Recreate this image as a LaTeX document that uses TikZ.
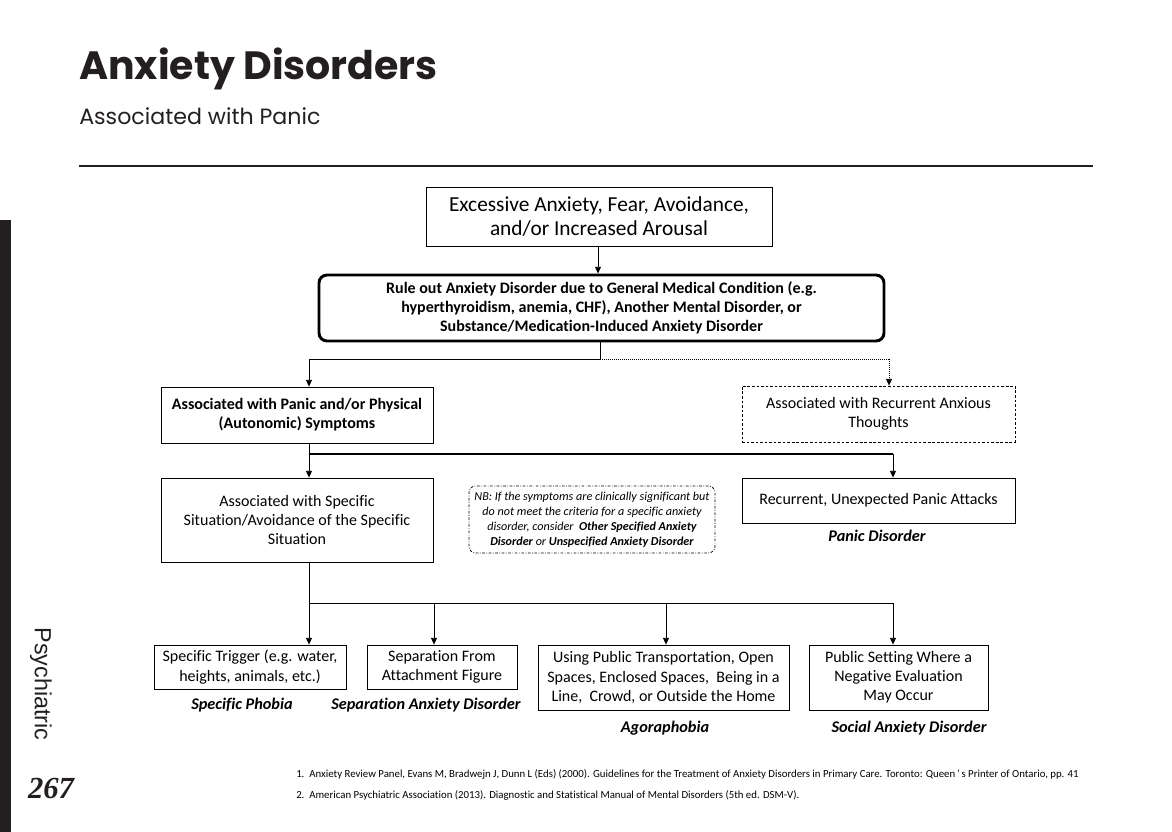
\documentclass[tikz,border=0pt]{standalone}
\usepackage{fontspec}
\setmainfont[Ligatures={NoCommon,NoRequired,NoContextual},Contextuals=NoAlternate]{Carlito}
\newfontfamily\titlefont{Poppins}
\newfontfamily\sidefont{Liberation Sans}
\newfontfamily\numfont{Liberation Serif}
\usetikzlibrary{arrows.meta}
\definecolor{ink}{HTML}{231F20}
\begin{document}
\begin{tikzpicture}[x=0.75pt,y=-0.75pt,
  box/.style={draw, line width=0.6pt, inner sep=0pt, align=center, font=\fontsize{12}{14.3}\selectfont},
  boldbox/.style={box, font=\fontsize{12}{14.3}\selectfont\bfseries},
  bigbox/.style={box, font=\fontsize{16}{18}\selectfont},
  rulebox/.style={draw, line width=2.2pt, rounded corners=6pt, inner sep=0pt, align=center, font=\fontsize{12}{14.3}\selectfont\bfseries},
  dashbox/.style={box, dash pattern=on 2pt off 1.4pt},
  nbbox/.style={draw, line width=0.6pt, rounded corners=5pt, dash pattern=on 2pt off 1.2pt on 0.5pt off 1.2pt, inner sep=0pt, align=center, font=\fontsize{9.1}{11.2}\selectfont\itshape},
  dxlabel/.style={inner sep=0pt, font=\fontsize{12.2}{13}\selectfont\bfseries\itshape},
  conn/.style={line width=0.6pt},
  arr/.style={conn, -{Triangle[length=5pt,width=4.4pt]}},
  dotarr/.style={line width=0.5pt, densely dotted, -{Triangle[length=5pt,width=4.4pt]}},
  foot/.style={inner sep=0pt, anchor=base west, font=\fontsize{8.1}{9}\selectfont}
]
\useasboundingbox (0,0) rectangle (1172,832);
\fill[white] (0,0) rectangle (1172,832);

% side bar and page furniture
\fill[ink] (0,220) rectangle (11,832);
\node[ink, rotate=-90, inner sep=0pt, font=\sidefont\fontsize{17.5}{20}\selectfont] (side) at (41,684) {Psychiatric};
\node[ink, inner sep=0pt, font=\numfont\fontsize{23}{26}\selectfont\bfseries\itshape] (page) at (51,788) {267};

% title
\node[ink, anchor=base west, inner sep=0pt, font=\titlefont\fontsize{29.6}{34}\selectfont\bfseries] (title) at (79,79) {Anxiety Disorders};
\node[ink, anchor=base west, inner sep=0pt, font=\titlefont\fontsize{16.6}{20}\selectfont] (subtitle) at (79,124) {Associated with Panic};
\coordinate (ruleL) at (79,166);
\coordinate (ruleR) at (1093,166);
\draw[ink, line width=0.8pt] (ruleL) -- (ruleR);

% nodes
\node[bigbox, minimum width=259.5pt, minimum height=44.25pt] (b1) at (599,216.5) {Excessive Anxiety, Fear, Avoidance,\\and/or Increased Arousal};
\node[rulebox, minimum width=423.75pt, minimum height=49.5pt] (b2) at (601.5,308) {Rule out Anxiety Disorder due to General Medical Condition (e.g.\\hyperthyroidism, anemia, CHF), Another Mental Disorder, or\\Substance/Medication-Induced Anxiety Disorder};
\node[boldbox, minimum width=204pt, minimum height=42pt] (b3) at (297,415) {Associated with Panic and/or Physical\\(Autonomic) Symptoms};
\node[dashbox, minimum width=204.75pt, minimum height=42pt] (b4) at (878.5,414) {Associated with Recurrent Anxious\\Thoughts};
\node[box, minimum width=204pt, minimum height=63pt] (b5) at (297,520) {Associated with Specific\\Situation/Avoidance of the Specific\\Situation};
\node[nbbox, minimum width=184.5pt, minimum height=50.25pt] (nb) at (592,519.5) {NB: If the symptoms are clinically significant but\\do not meet the criteria for a specific anxiety\\disorder, consider \textbf{ Other Specified Anxiety}\\\textbf{Disorder} or \textbf{Unspecified Anxiety Disorder}};
\node[box, minimum width=204.75pt, minimum height=33.75pt] (b6) at (878.5,500.5) {Recurrent, Unexpected Panic Attacks};
\node[dxlabel] (l6) at (877,536) {Panic Disorder};

\node[box, minimum width=144pt, minimum height=33pt] (ba) at (250,667) {Specific Trigger (e.g. water,\\heights, animals, etc.)};
\node[box, minimum width=112.5pt, minimum height=33pt] (bb) at (442,667) {Separation From\\Attachment Figure};
\node[box, minimum width=188.25pt, minimum height=48.75pt] (bc) at (663.5,677.5) {Using Public Transportation, Open\\Spaces, Enclosed Spaces,\ \ Being in a\\Line,\ \ Crowd, or Outside the Home};
\node[box, minimum width=134.25pt, minimum height=48.75pt] (bd) at (898.5,677.5) {Public Setting Where a\\Negative Evaluation\\May Occur};
\node[dxlabel] (la) at (242,705) {Specific Phobia};
\node[dxlabel] (lb) at (426,705) {Separation Anxiety Disorder};
\node[dxlabel] (lc) at (665,728) {Agoraphobia};
\node[dxlabel] (ld) at (909,728) {Social Anxiety Disorder};

% connectors
\coordinate (x1) at (598,0);
\draw[arr] (b1.south -| x1) -- (b2.north -| x1);

\coordinate (j1) at (600,359);
\coordinate (j1L) at (309,359);
\coordinate (j1R) at (889,359);
\draw[conn] (b2.south -| j1) -- (j1) -- (j1L);
\draw[arr] (j1L) -- (b3.north -| j1L);
\draw[line width=0.5pt, densely dotted] (j1) -- (j1R);
\draw[dotarr] (j1R) -- (b4.north -| j1R);

\coordinate (j2L) at (309,454);
\coordinate (j2R) at (893,454);
\draw[conn] (b3.south -| j2L) -- (j2L);
\draw[line width=0.9pt] (j2L) -- (j2R);
\draw[arr] (j2L) -- (b5.north -| j2L);
\draw[arr] (j2R) -- (b6.north -| j2R);

\coordinate (j3a) at (309,603);
\coordinate (j3b) at (434,603);
\coordinate (j3c) at (666,603);
\coordinate (j3d) at (893,603);
\draw[conn] (b5.south -| j3a) -- (j3a) -- (j3d);
\draw[arr] (j3a) -- (ba.north -| j3a);
\draw[arr] (j3b) -- (bb.north -| j3b);
\draw[arr] (j3c) -- (bc.north -| j3c);
\draw[arr] (j3d) -- (bd.north -| j3d);

% footnotes
\node[foot] (f1) at (296,777) {1.\ \ Anxiety Review Panel, Evans M, Bradwejn J, Dunn L (Eds) (2000). Guidelines for the Treatment of Anxiety Disorders in Primary Care. Toronto: Queen{\,}'{\,}s Printer of Ontario, pp. 41};
\node[foot] (f2) at (296,798) {2.\ \ American Psychiatric Association (2013). Diagnostic and Statistical Manual of Mental Disorders (5th ed. DSM-V).};
\end{tikzpicture}
\end{document}
